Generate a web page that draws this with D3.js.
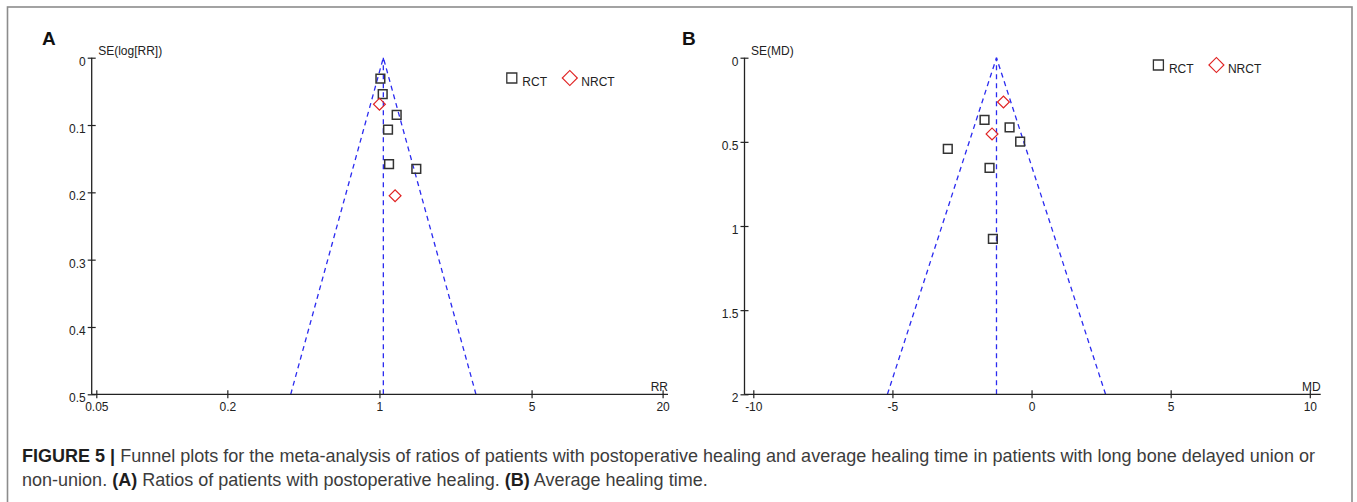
<!DOCTYPE html>
<html lang="en">

<head>
	<meta charset="utf-8"/>
	<title>Funnel plots</title>
	<script src="https://d3js.org/d3.v7.min.js"></script>
	<style>
		body { margin: 0; background: #fff; }
		svg { display: block; font-family: "Liberation Sans", Arial, sans-serif; }
	</style>
</head>

<body>
<script>
// data
	var rrRctValues  = [1.01, 1.035, 1.20, 1.095, 1.107, 1.477];
	var rrRctSe      = [0.031, 0.054, 0.085, 0.107, 0.158, 0.165];
	var rrNrctValues = [1.00, 1.18];
	var rrNrctSe     = [0.069, 0.205];
	var rrPooled     = 1.042;

	var mdRctValues  = [-1.69, -0.79, -0.41, -3.01, -1.51, -1.39];
	var mdRctSe      = [0.370, 0.414, 0.499, 0.542, 0.654, 1.077];
	var mdNrctValues = [-1.01, -1.42];
	var mdNrctSe     = [0.263, 0.453];
	var mdPooled     = -1.26;

	var rrTicks   = [0.05, 0.2, 1, 5, 20];
	var seRrTicks = [0, 0.1, 0.2, 0.3, 0.4, 0.5];
	var mdTicks   = [-10, -5, 0, 5, 10];
	var seMdTicks = [0, 0.5, 1, 1.5, 2];
	var legendLabels = ["RCT", "NRCT"];

	var w = 1357;
	var h = 502;

	var svg = d3.select("body")
				.append("svg")
				.attr("width", w)
				.attr("height", h);

// grey frame round the figure (open at the bottom edge)
	svg.append("rect")
		.attr("x", 7.5).attr("y", 7)
		.attr("width", 1344.5).attr("height", 520)
		.attr("fill", "none")
		.attr("stroke", "#8c8c8c")
		.attr("stroke-width", 1.6);

	var blue = "#2b2bf0";
	var red = "#e02424";
	var ink = "#222";

// draws one funnel panel
	function panel(opt) {
		var g = svg.append("g");
		var x = opt.x, y = opt.y;

		// panel letter
		g.append("text")
			.attr("x", opt.letterX).attr("y", 45)
			.attr("font-size", "19px").attr("font-weight", "bold")
			.attr("fill", "#111")
			.text(opt.letter);

		// funnel, dashed
		var seMax = y.domain()[1];
		var lo = opt.bound(opt.pooled, -1.96 * seMax);
		var hi = opt.bound(opt.pooled, 1.96 * seMax);
		var funnel = [
			[[lo, seMax], [opt.pooled, 0]],
			[[hi, seMax], [opt.pooled, 0]],
			[[opt.pooled, seMax], [opt.pooled, 0]]
		];
		g.selectAll(".funnel")
			.data(funnel)
			.enter()
			.append("line")
			.attr("x1", function(d) {return x(d[0][0]);})
			.attr("y1", function(d) {return y(d[0][1]);})
			.attr("x2", function(d) {return x(d[1][0]);})
			.attr("y2", function(d) {return y(d[1][1]);})
			.attr("stroke", blue)
			.attr("stroke-width", 1.3)
			.attr("stroke-dasharray", "5,4");

		// y axis
		var yAxis = d3.axisLeft(y)
					.tickValues(opt.yTicks)
					.tickFormat(function(d) {return String(d);})
					.tickSize(4)
					.tickPadding(6);
		var ya = g.append("g")
			.attr("transform", "translate(" + opt.axisX + ",0)")
			.call(yAxis);
		ya.select(".domain").remove();
		ya.selectAll(".tick line").attr("x1", -4).attr("x2", 4).attr("stroke", ink).attr("stroke-width", 1.2);
		ya.selectAll(".tick text").attr("font-size", "12px").attr("font-family", "Liberation Sans, Arial, sans-serif")
			.attr("fill", ink).attr("dy", "0.62em").attr("x", -6);
		g.append("line")
			.attr("x1", opt.axisX).attr("x2", opt.axisX)
			.attr("y1", y(0)).attr("y2", y(seMax))
			.attr("stroke", ink).attr("stroke-width", 1.3);

		// x axis
		var xAxis = d3.axisBottom(x)
					.tickValues(opt.xTicks)
					.tickFormat(function(d) {return String(d);})
					.tickSize(4)
					.tickPadding(6);
		var xa = g.append("g")
			.attr("transform", "translate(0," + y(seMax) + ")")
			.call(xAxis);
		xa.select(".domain").remove();
		xa.selectAll(".tick line").attr("y1", -4).attr("y2", 4).attr("stroke", ink).attr("stroke-width", 1.2);
		xa.selectAll(".tick text").attr("font-size", "12px").attr("font-family", "Liberation Sans, Arial, sans-serif")
			.attr("fill", ink).attr("y", 8).attr("dy", "0.71em");
		g.append("line")
			.attr("x1", opt.axisX).attr("x2", opt.axisEnd)
			.attr("y1", y(seMax)).attr("y2", y(seMax))
			.attr("stroke", ink).attr("stroke-width", 1.3);

		// axis titles
		g.append("text")
			.attr("x", opt.axisX + 6.5).attr("y", 55)
			.attr("font-size", "12px").attr("fill", ink)
			.text(opt.yTitle);
		g.append("text")
			.attr("x", opt.axisEnd).attr("y", y(seMax) - 3)
			.attr("text-anchor", "end")
			.attr("font-size", "12px").attr("fill", ink)
			.text(opt.xTitle);

		// study points
		var rct = opt.rctValues.map(function(v, i) {return [v, opt.rctSe[i]];});
		var nrct = opt.nrctValues.map(function(v, i) {return [v, opt.nrctSe[i]];});

		g.selectAll(".rct")
			.data(rct)
			.enter()
			.append("path")
			.attr("d", d3.symbol().type(d3.symbolSquare).size(76))
			.attr("transform", function(d) {return "translate(" + x(d[0]) + "," + y(d[1]) + ")";})
			.attr("fill", "none")
			.attr("stroke", "#333")
			.attr("stroke-width", 1.5);

		g.selectAll(".nrct")
			.data(nrct)
			.enter()
			.append("path")
			.attr("d", d3.symbol().type(d3.symbolSquare).size(70))
			.attr("transform", function(d) {return "translate(" + x(d[0]) + "," + y(d[1]) + ") rotate(45)";})
			.attr("fill", "none")
			.attr("stroke", red)
			.attr("stroke-width", 1.2);

		// legend
		var lg = g.append("g");
		lg.append("path")
			.attr("d", d3.symbol().type(d3.symbolSquare).size(100))
			.attr("transform", "translate(" + opt.legX + "," + opt.legY + ")")
			.attr("fill", "none").attr("stroke", "#333").attr("stroke-width", 1.3);
		lg.append("text")
			.attr("x", opt.legX + 10.5).attr("y", opt.legY + 8)
			.attr("font-size", "12px").attr("fill", ink)
			.text(legendLabels[0]);
		lg.append("path")
			.attr("d", d3.symbol().type(d3.symbolSquare).size(112))
			.attr("transform", "translate(" + (opt.legX + 58) + "," + opt.legY + ") rotate(45)")
			.attr("fill", "none").attr("stroke", red).attr("stroke-width", 1.2);
		lg.append("text")
			.attr("x", opt.legX + 69.5).attr("y", opt.legY + 8)
			.attr("font-size", "12px").attr("fill", ink)
			.text(legendLabels[1]);
	}

// panel A: risk ratio on a log axis
	var xA = d3.scaleLog().domain([0.05, 20]).range([96.3, 662.6]);
	var yA = d3.scaleLinear().domain([0, 0.5]).range([57.7, 394.3]);
	panel({
		letter: "A", letterX: 42,
		x: xA, y: yA, axisX: 91.7, axisEnd: 668,
		xTicks: rrTicks, yTicks: seRrTicks,
		xTitle: "RR", yTitle: "SE(log[RR])",
		pooled: rrPooled,
		bound: function(p, d) {return Math.exp(Math.log(p) + d);},
		rctValues: rrRctValues, rctSe: rrRctSe,
		nrctValues: rrNrctValues, nrctSe: rrNrctSe,
		legX: 511.8, legY: 78
	});

// panel B: mean difference
	var xB = d3.scaleLinear().domain([-10, 10]).range([753.3, 1309.8]);
	var yB = d3.scaleLinear().domain([0, 2]).range([57.7, 394.3]);
	panel({
		letter: "B", letterX: 682,
		x: xB, y: yB, axisX: 744.5, axisEnd: 1320.7,
		xTicks: mdTicks, yTicks: seMdTicks,
		xTitle: "MD", yTitle: "SE(MD)",
		pooled: mdPooled,
		bound: function(p, d) {return p + d;},
		rctValues: mdRctValues, rctSe: mdRctSe,
		nrctValues: mdNrctValues, nrctSe: mdNrctSe,
		legX: 1158.4, legY: 65
	});

// caption
	var cap = svg.append("g")
				.attr("fill", "#3c3c3c");

	var line1 = cap.append("text").attr("x", 22).attr("y", 462).attr("font-size", "16px");
	line1.append("tspan").attr("font-weight", "bold").attr("fill", "#1e1e1e").text("FIGURE 5 |");
	line1.append("tspan").text(" Funnel plots for the meta-analysis of ratios of patients with postoperative healing and average healing time in patients with long bone delayed union or");

	var line2 = cap.append("text").attr("x", 22).attr("y", 486).attr("font-size", "16px");
	line2.append("tspan").text("non-union. ");
	line2.append("tspan").attr("font-weight", "bold").attr("fill", "#1e1e1e").text("(A)");
	line2.append("tspan").text(" Ratios of patients with postoperative healing. ");
	line2.append("tspan").attr("font-weight", "bold").attr("fill", "#1e1e1e").text("(B)");
	line2.append("tspan").text(" Average healing time.");

// fit the first line to the printed width
	var len = line1.node().getComputedTextLength();
	var fs = 16 * (1316 - 22) / len;
	line1.attr("font-size", fs + "px");
	line2.attr("font-size", fs + "px");

</script>
</body>
</html>
